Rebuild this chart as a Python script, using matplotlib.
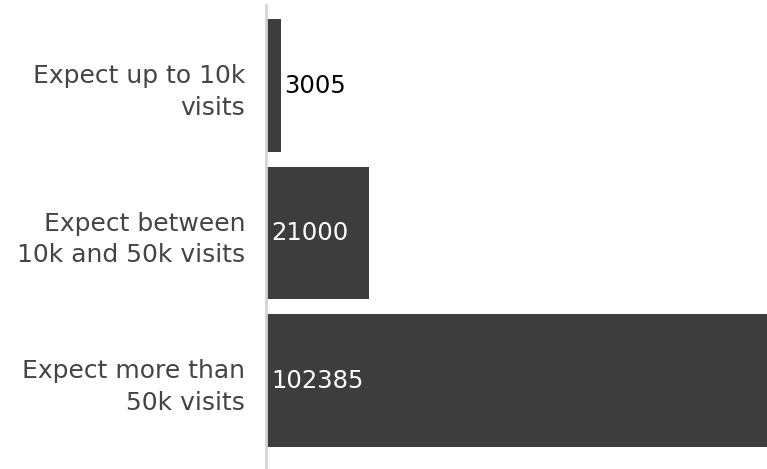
import matplotlib
matplotlib.use("Agg")
import matplotlib.pyplot as plt

categories = ["Expect up to 10k\nvisits",
              "Expect between\n10k and 50k visits",
              "Expect more than\n50k visits"]
values = [3005, 21000, 102385]

BAR = "#3d3d3d"
plt.rcParams['font.family'] = ['DejaVu Sans']

fig = plt.figure(figsize=(7.67, 4.69), dpi=100)
ax = fig.add_axes([266 / 767, 0, 1 - 266 / 767, 1 - 5 / 469])

ypos = list(range(len(values)))
bars = ax.barh(ypos, values, height=0.9, color=BAR)
ax.set_xlim(0, max(values))
ax.set_ylim(2.6, -0.546)

ax.set_yticks(ypos)
ax.set_yticklabels(categories, fontsize=18, color="#444444", linespacing=1.4)
ax.tick_params(axis="y", length=0, pad=15)
ax.set_xticks([])

for s in ["top", "right", "bottom"]:
    ax.spines[s].set_visible(False)
ax.spines["left"].set_color("#d4d4d4")
ax.spines["left"].set_linewidth(2)

inside_min = 0.1 * max(values)
for y, v in zip(ypos, values):
    if v < inside_min:
        ax.annotate(str(v), (v, y), xytext=(2.5, 0), textcoords="offset points",
                    va="center", ha="left", fontsize=17.5, color="black")
    else:
        ax.annotate(str(v), (0, y), xytext=(3.5, 0), textcoords="offset points",
                    va="center", ha="left", fontsize=17.5, color="white")

fig.savefig("out.png", dpi=100)
